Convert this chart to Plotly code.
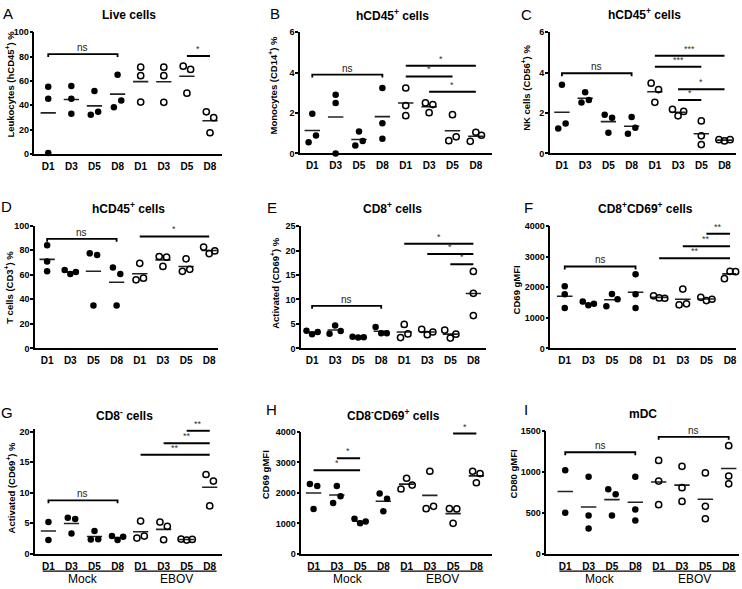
import plotly.graph_objects as go

W, H = 742, 589

DAYS = ["D1", "D3", "D5", "D8"]
TICK_TEXT = DAYS + DAYS
GROUP_LABELS = ["Mock", "EBOV"]

# ---------------- data (per day D1, D3, D5, D8; one value per mouse) ----------------
A_MOCK = [[55.2, 45.3, 0.8], [55.8, 45.3, 33.0], [51.7, 32.2, 34.6], [65.1, 38.3, 44.0]]
A_EBOV = [[71.3, 64.3, 42.6], [71.3, 64.3, 42.4], [72.1, 69.4, 49.9], [34.6, 29.8, 17.4]]
A_SIG = [(0, 3, 82.0, "ns"), (6, 7, 80.5, "*")]

B_MOCK = [[1.97, 0.55, 0.89], [2.9, 2.5, 0.0], [1.08, 0.39, 0.61], [3.24, 1.5, 0.73]]
B_EBOV = [[3.24, 2.37, 1.87], [2.5, 2.02, 2.42], [1.92, 0.63, 0.82], [0.6, 1.05, 0.9]]
B_SIG = [(0, 3, 3.9, "ns"), (4, 7, 4.34, "*"), (4, 6, 3.81, "*"), (5, 7, 3.05, "*")]

C_MOCK = [[3.4, 1.24, 1.48], [2.52, 3.03, 2.65], [1.92, 1.77, 1.03], [1.8, 0.97, 1.27]]
C_EBOV = [[3.48, 3.16, 2.53], [2.18, 1.86, 2.08], [1.61, 0.87, 0.44], [0.68, 0.62, 0.68]]
C_SIG = [(0, 3, 3.97, "ns"), (4, 7, 4.83, "***"), (4, 6, 4.29, "***"),
         (5, 7, 3.18, "*"), (5, 6, 2.64, "*")]

D_MOCK = [[84.0, 70.9, 62.8], [63.9, 60.7, 62.3], [77.5, 76.2, 35.0], [66.0, 60.7, 35.0]]
D_EBOV = [[69.3, 55.9, 57.2], [74.9, 74.3, 66.8], [73.0, 62.8, 64.4], [82.6, 77.3, 79.4]]
D_SIG = [(0, 3, 89.3, "ns"), (4, 7, 91.2, "*")]

E_MOCK = [[3.6, 2.9, 3.35], [3.0, 4.7, 3.55], [2.4, 2.2, 2.3], [4.35, 3.08, 3.1]]
E_EBOV = [[4.9, 2.2, 2.95], [3.9, 2.8, 3.35], [3.75, 2.1, 2.9], [15.75, 11.26, 6.7]]
E_SIG = [(0, 3, 8.7, "ns"), (4, 7, 21.4, "*"), (5, 7, 19.3, "*"), (6, 7, 17.2, "*")]

F_MOCK = [[2037, 1769, 1319], [1533, 1415, 1458], [1380, 1780, 1608], [2423, 1769, 1319]]
F_EBOV = [[1720, 1650, 1640], [1940, 1426, 1458], [1672, 1565, 1608], [2283, 2519, 2510]]
F_SIG = [(0, 3, 2680, "ns"), (4, 7, 2948, "**"), (5, 7, 3345, "**"), (6, 7, 3752, "**")]

G_MOCK = [[5.2, 2.25], [5.9, 5.68, 3.32], [3.75, 2.36, 2.38], [2.9, 2.25, 2.79]]
G_EBOV = [[5.36, 2.57, 2.9], [5.2, 4.5, 2.3], [2.41, 2.25, 2.36], [12.98, 11.9, 7.83]]
G_SIG = [(0, 3, 8.74, "ns"), (4, 7, 16.2, "**"), (5, 7, 18.1, "**"), (6, 7, 20.15, "**")]

H_MOCK = [[2290, 2225, 1473], [2225, 1670, 1890], [1150, 1000, 1064], [1978, 1806, 1397]]
H_EBOV = [[2128, 2480, 2257], [2709, 1483, 1559], [1483, 1473, 1000], [2709, 2634, 2333]]
H_SIG = [(0, 2, 2741, "*"), (1, 2, 3139, "*"), (6, 7, 3945, "*")]

I_MOCK = [[1020, 500], [940, 468, 308], [788, 728, 468], [940, 540, 408]]
I_EBOV = [[1140, 888, 600], [1068, 808, 640], [988, 580, 428], [1320, 950, 855]]
I_SIG = [(0, 3, 1240, "ns"), (4, 7, 1428, "ns")]

TITLES = ["Live cells", "hCD45<sup>+</sup> cells", "hCD45<sup>+</sup> cells",
          "hCD45<sup>+</sup> cells", "CD8<sup>+</sup> cells", "CD8<sup>+</sup>CD69<sup>+</sup> cells",
          "CD8<sup>-</sup> cells", "CD8<sup>-</sup>CD69<sup>+</sup> cells", "mDC"]
YTITLES = ["Leukocytes (hCD45<sup>+</sup>) %", "Monocytes (CD14<sup>+</sup>) %",
           "NK cells (CD56<sup>+</sup>) %", "T cells (CD3<sup>+</sup>) %",
           "Activated (CD69<sup>+</sup>) %", "CD69 gMFI",
           "Activated (CD69<sup>+</sup>) %", "CD69 gMFI", "CD80 gMFI"]
LETTERS = ["A", "B", "C", "D", "E", "F", "G", "H", "I"]
Y_TICK_MAX = [100, 6, 6, 100, 25, 4000, 20, 4000, 1500]
Y_TICK_STEP = [20, 2, 2, 20, 5, 1000, 5, 1000, 500]

MOCKS = [A_MOCK, B_MOCK, C_MOCK, D_MOCK, E_MOCK, F_MOCK, G_MOCK, H_MOCK, I_MOCK]
EBOVS = [A_EBOV, B_EBOV, C_EBOV, D_EBOV, E_EBOV, F_EBOV, G_EBOV, H_EBOV, I_EBOV]
SIGS = [A_SIG, B_SIG, C_SIG, D_SIG, E_SIG, F_SIG, G_SIG, H_SIG, I_SIG]

# ---------------- layout (pixel geometry of each panel) ----------------
# (axis left, axis right, first category, last category, axis top, axis bottom)
BOX = [
    (34.5, 222.5, 48.3, 210.3, 27.7, 151.5),
    (300.5, 493.0, 312.7, 476.5, 27.7, 151.0),
    (550.5, 737.0, 562.7, 725.5, 27.7, 151.0),
    (35.0, 218.0, 47.2, 209.5, 224.5, 349.3),
    (301.5, 487.0, 312.5, 474.0, 225.0, 349.3),
    (551.0, 737.0, 565.5, 731.0, 225.0, 349.3),
    (35.0, 222.5, 48.5, 210.0, 431.5, 558.3),
    (301.7, 493.0, 314.0, 477.0, 434.3, 558.3),
    (547.0, 740.0, 566.0, 729.7, 433.3, 558.3),
]
Y_RANGE_TOP = [100, 6, 6, 100, 25, 4000, 20.4, 4000, 1500]
LETTER_POS = [(8, 9), (275, 9), (527, 10), (7, 205), (272, 206), (529, 206),
              (7, 415), (272, 411), (527, 411)]
TITLE_POS = [(129, 10), (393, 10), (645.7, 9.5), (129, 207), (393.3, 206.5), (646.3, 207),
             (125, 417), (394, 417), (644, 416.5)]
YTITLE_POS = [(10.2, 80.8), (273.5, 81.7), (526, 84), (9.0, 286.7), (275.5, 282.5),
              (517, 290), (11.0, 490.8), (265.5, 478.3), (514.5, 476.7)]

FONT = "Liberation Sans, Arial, Helvetica, sans-serif"


def spread_offsets(vals, px_per_unit, spacing_px):
    """Prism-like sideways spreading of symbols that would overlap vertically."""
    n = len(vals)
    order = sorted(range(n), key=lambda k: vals[k])
    clusters, cur = [], [order[0]]
    for k in order[1:]:
        if (vals[k] - vals[cur[-1]]) * px_per_unit < 7.6:
            cur.append(k)
        else:
            clusters.append(cur)
            cur = [k]
    clusters.append(cur)
    off = [0.0] * n
    for c in clusters:
        c = sorted(c)
        if len(c) == 2:
            pxs = [-3.7, 3.7]
        elif len(c) == 3:
            pxs = [-5.6, 0.0, 5.6]
        else:
            pxs = [0.0] * len(c)
        for k, p in zip(c, pxs):
            off[k] = p / spacing_px
    return off


fig = go.Figure()
layout = dict(
    width=W, height=H, autosize=False,
    margin=dict(l=0, r=0, t=0, b=0),
    paper_bgcolor="white", plot_bgcolor="white",
    showlegend=False,
    font=dict(family=FONT, color="black"),
)
shapes, annotations = [], []

for i in range(9):
    n = i + 1
    xa = "x" if n == 1 else f"x{n}"
    ya = "y" if n == 1 else f"y{n}"
    L, R, d1, d8, top, bot = BOX[i]
    spc = (d8 - d1) / 7.0
    ytop = Y_RANGE_TOP[i]
    pxu = (bot - top) / ytop

    layout["xaxis" if n == 1 else f"xaxis{n}"] = dict(
        domain=[L / W, R / W], anchor=ya,
        range=[(L - d1) / spc, 7 + (R - d8) / spc],
        showline=True, linecolor="black", linewidth=1.5,
        showgrid=False, zeroline=False, ticks="",
        tickmode="array", tickvals=list(range(8)), ticktext=TICK_TEXT,
        tickfont=dict(family=FONT, size=10, color="black", weight="bold"),
        ticklabelstandoff=2, fixedrange=True,
    )
    layout["yaxis" if n == 1 else f"yaxis{n}"] = dict(
        domain=[1 - bot / H, 1 - top / H], anchor=xa,
        range=[0, ytop],
        showline=True, linecolor="black", linewidth=1.5,
        showgrid=False, zeroline=False,
        ticks="outside", ticklen=3, tickwidth=1.5, tickcolor="black",
        tickmode="linear", tick0=0, dtick=Y_TICK_STEP[i],
        tickfont=dict(family=FONT, size=9, color="black", weight="bold"),
        ticklabelstandoff=-1, fixedrange=True,
    )

    # means
    mx, my = [], []
    for g, groups in enumerate([MOCKS[i], EBOVS[i]]):
        for j, vals in enumerate(groups):
            c = g * 4 + j
            m = sum(vals) / len(vals)
            mx += [c - 0.33, c + 0.33, None]
            my += [m, m, None]
    fig.add_trace(go.Scatter(x=mx, y=my, mode="lines", xaxis=xa, yaxis=ya,
                             line=dict(color="#222222", width=1.6), hoverinfo="skip"))

    # points
    for g, groups in enumerate([MOCKS[i], EBOVS[i]]):
        px_, py_ = [], []
        for j, vals in enumerate(groups):
            c = g * 4 + j
            offs = spread_offsets(vals, pxu, spc)
            px_ += [c + o for o in offs]
            py_ += list(vals)
        if g == 0:
            marker = dict(symbol="circle", size=6.5, color="black", line=dict(width=0))
        else:
            marker = dict(symbol="circle-open", size=6.2, color="black", line=dict(width=1.5))
        fig.add_trace(go.Scatter(x=px_, y=py_, mode="markers", xaxis=xa, yaxis=ya,
                                 marker=marker, cliponaxis=False, name=GROUP_LABELS[g]))

    # significance bars
    for (c0, c1, yv, lab) in SIGS[i]:
        if lab == "ns":
            d = 3.0 / pxu
            path = f"M {c0},{yv - d} L {c0},{yv} L {c1},{yv} L {c1},{yv - d}"
            shapes.append(dict(type="path", path=path, xref=xa, yref=ya,
                               line=dict(color="black", width=1.8)))
            annotations.append(dict(x=(c0 + c1) / 2, y=yv, xref=xa, yref=ya,
                                    text=lab, showarrow=False, yanchor="bottom",
                                    yshift=-1, font=dict(family=FONT, size=10, color="#222")))
        else:
            shapes.append(dict(type="line", x0=c0, x1=c1, y0=yv, y1=yv, xref=xa, yref=ya,
                               line=dict(color="black", width=2)))
            annotations.append(dict(x=(c0 + c1) / 2, y=yv, xref=xa, yref=ya,
                                    text=lab, showarrow=False, yanchor="bottom",
                                    yshift=0, font=dict(family=FONT, size=9, color="#333")))

    # texts
    lx, ly = LETTER_POS[i]
    annotations.append(dict(x=lx / W, y=1 - ly / H, xref="paper", yref="paper",
                            text=LETTERS[i], showarrow=False, xanchor="center", yanchor="middle",
                            font=dict(family=FONT, size=15, color="black")))
    tx, ty = TITLE_POS[i]
    annotations.append(dict(x=tx / W, y=1 - ty / H, xref="paper", yref="paper",
                            text="<b>" + TITLES[i] + "</b>", showarrow=False,
                            xanchor="center", yanchor="middle",
                            font=dict(family=FONT, size=12, color="black")))
    yx, yy = YTITLE_POS[i]
    annotations.append(dict(x=yx / W, y=1 - yy / H, xref="paper", yref="paper",
                            text="<b>" + YTITLES[i] + "</b>", showarrow=False, textangle=-90,
                            xanchor="center", yanchor="middle",
                            font=dict(family=FONT, size=9.5, color="black")))

    # group brackets under bottom row
    if i >= 6:
        for g, (a0, a1, mid) in enumerate([(-0.25, 3.25, 1.5), (3.75, 7.3, 5.55)]):
            shapes.append(dict(type="line", x0=a0, x1=a1, y0=1 - 576 / H, y1=1 - 576 / H,
                               xref=xa, yref="paper", line=dict(color="black", width=1.3)))
            annotations.append(dict(x=mid, y=1 - 584 / H, xref=xa, yref="paper",
                                    text=GROUP_LABELS[g], showarrow=False,
                                    xanchor="center", yanchor="middle",
                                    font=dict(family=FONT, size=12, color="black")))

layout["shapes"] = shapes
layout["annotations"] = annotations
fig.update_layout(**layout)
fig.write_html("out.html", config={"displayModeBar": False},
               post_script="document.body.style.margin='0px';document.body.style.overflow='hidden';")
